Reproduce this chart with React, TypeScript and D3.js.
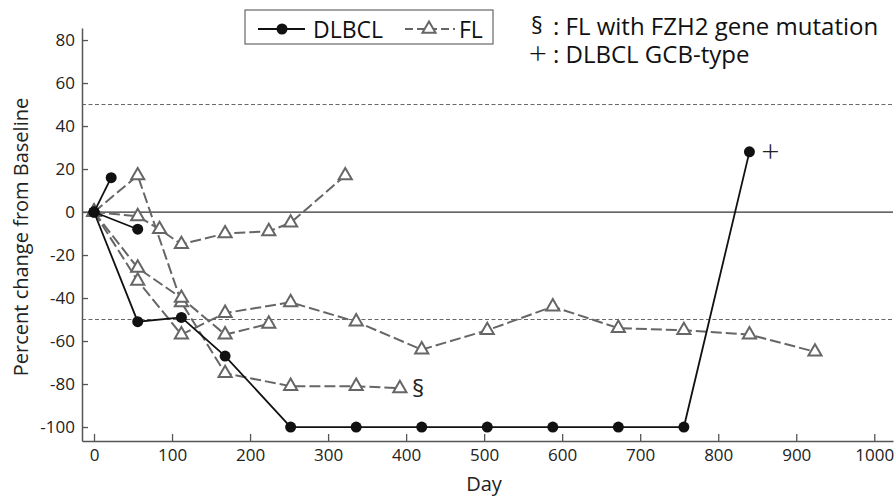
import React, { useEffect, useRef } from 'react';
import * as d3 from 'd3';

// DLBCL patients (day, % change)
const dlbcl1 = [[0, 0], [22, 16]];
const dlbcl2 = [[0, 0], [56, -8]];
const dlbcl3 = [[0, 0], [56, -51], [112, -49], [168, -67], [252, -100], [336, -100], [420, -100], [504, -100], [588, -100], [672, -100], [756, -100], [840, 28]];

// FL patients
const fl1 = [[0, 0], [56, -2], [84, -8], [112, -15], [168, -10], [224, -9], [252, -5], [322, 17]];
const fl2 = [[0, 0], [56, 17], [112, -42], [168, -75], [252, -81], [336, -81], [392, -82]];
const fl3 = [[0, 0], [56, -26], [112, -40], [168, -57], [224, -52]];
const fl4 = [[0, 0], [56, -32], [112, -57], [168, -47], [252, -42], [336, -51], [420, -64], [504, -55], [588, -44], [672, -54], [756, -55], [840, -57], [924, -65]];

const dlbclSeries = [dlbcl1, dlbcl2, dlbcl3];
const flSeries = [fl1, fl2, fl3, fl4];

const xTicks = [0, 100, 200, 300, 400, 500, 600, 700, 800, 900, 1000];
const yTicks = [-100, -80, -60, -40, -20, 0, 20, 40, 60, 80];
const refLines = [50, -50];

const W = 895;
const H = 498;
const FONT = "'Open Sans', sans-serif";

export default function App() {
  const ref = useRef<SVGSVGElement>(null);

  useEffect(() => {
    const svg = d3.select(ref.current);
    svg.selectAll('*').remove();

    const x = d3.scaleLinear().domain([-15.4, 1024]).range([82, 893]);
    const y = d3.scaleLinear().domain([-106.5, 85.6]).range([441, 28]);

    // reference lines (+/-50%)
    svg.append('g')
      .selectAll('line')
      .data(refLines)
      .enter()
      .append('line')
      .attr('x1', 82).attr('x2', 893)
      .attr('y1', d => y(d)).attr('y2', d => y(d))
      .attr('stroke', '#666').attr('stroke-width', 1)
      .attr('stroke-dasharray', '4,2.5');

    svg.append('line')
      .attr('x1', 82).attr('x2', 893)
      .attr('y1', y(0)).attr('y2', y(0))
      .attr('stroke', '#333').attr('stroke-width', 1.2);

    // axes
    const yAxis = d3.axisLeft(y).tickValues(yTicks).tickSizeInner(-6).tickSizeOuter(0).tickPadding(7).tickFormat(d => String(d));
    const gy = svg.append('g').attr('transform', 'translate(82,0)').call(yAxis);
    const xAxis = d3.axisBottom(x).tickValues(xTicks).tickSizeInner(-7).tickSizeOuter(0).tickPadding(8).tickFormat(d => String(d));
    const gx = svg.append('g').attr('transform', 'translate(0,441)').call(xAxis);
    [gx, gy].forEach(g => {
      g.select('.domain').attr('stroke', '#555').attr('stroke-width', 1.5);
      g.selectAll('.tick line').attr('stroke', '#555').attr('stroke-width', 1.3);
      g.selectAll('.tick text').attr('fill', '#222').attr('font-size', 17).attr('font-family', FONT);
    });

    svg.append('text')
      .attr('transform', 'translate(28,237) rotate(-90)')
      .attr('text-anchor', 'middle')
      .attr('font-size', 20).attr('font-family', FONT).attr('fill', '#222')
      .text('Percent change from Baseline');
    svg.append('text')
      .attr('x', 484).attr('y', 491)
      .attr('text-anchor', 'middle')
      .attr('font-size', 20).attr('font-family', FONT).attr('fill', '#222')
      .text('Day');

    const line = d3.line<number[]>().x(d => x(d[0])).y(d => y(d[1]));
    const tri = d3.symbol().type(d3.symbolTriangle).size(75);

    // FL
    const gfl = svg.append('g');
    gfl.selectAll('path.fl')
      .data(flSeries)
      .enter()
      .append('path')
      .attr('class', 'fl')
      .attr('d', d => line(d))
      .attr('fill', 'none').attr('stroke', '#666').attr('stroke-width', 2)
      .attr('stroke-dasharray', '11,4');

    // DLBCL
    const gd = svg.append('g');
    gd.selectAll('path')
      .data(dlbclSeries)
      .enter()
      .append('path')
      .attr('d', d => line(d))
      .attr('fill', 'none').attr('stroke', '#111').attr('stroke-width', 1.8);

    gfl.selectAll('path.tri')
      .data(flSeries.flat())
      .enter()
      .append('path')
      .attr('class', 'tri')
      .attr('d', tri)
      .attr('transform', d => 'translate(' + x(d[0]) + ',' + y(d[1]) + ')')
      .attr('fill', 'white').attr('stroke', '#666').attr('stroke-width', 2);

    gd.selectAll('circle')
      .data(dlbclSeries.flat())
      .enter()
      .append('circle')
      .attr('cx', d => x(d[0])).attr('cy', d => y(d[1]))
      .attr('r', 5.5).attr('fill', '#111');

    // annotations on the series
    const lastFl2 = fl2[fl2.length - 1];
    svg.append('text')
      .attr('x', x(lastFl2[0]) + 12).attr('y', y(lastFl2[1]) + 9)
      .attr('font-size', 24).attr('font-family', FONT).attr('fill', '#222')
      .text('§');
    const lastD = dlbcl3[dlbcl3.length - 1];
    svg.append('text')
      .attr('x', x(lastD[0]) + 21).attr('y', y(lastD[1]) + 11)
      .attr('text-anchor', 'middle')
      .attr('font-size', 32).attr('font-family', FONT).attr('font-weight', 300).attr('fill', '#222')
      .text('+');

    // legend
    const lg = svg.append('g');
    lg.append('rect')
      .attr('x', 245).attr('y', 10).attr('width', 248).attr('height', 34)
      .attr('fill', 'white').attr('stroke', '#666').attr('stroke-width', 1.2);
    lg.append('line').attr('x1', 258).attr('x2', 305).attr('y1', 29).attr('y2', 29)
      .attr('stroke', '#111').attr('stroke-width', 1.8);
    lg.append('circle').attr('cx', 282).attr('cy', 29).attr('r', 5.5).attr('fill', '#111');
    lg.append('text').attr('x', 313).attr('y', 38)
      .attr('font-size', 23).attr('font-family', FONT).attr('fill', '#111').text('DLBCL');
    lg.append('line').attr('x1', 405).attr('x2', 455).attr('y1', 29).attr('y2', 29)
      .attr('stroke', '#666').attr('stroke-width', 2).attr('stroke-dasharray', '8,4');
    lg.append('path').attr('d', tri).attr('transform', 'translate(429,29)')
      .attr('fill', 'white').attr('stroke', '#666').attr('stroke-width', 2);
    lg.append('text').attr('x', 459).attr('y', 38)
      .attr('font-size', 23).attr('font-family', FONT).attr('fill', '#111').text('FL');

    // notes
    svg.append('text').attr('x', 537).attr('y', 34).attr('text-anchor', 'middle')
      .attr('font-size', 23).attr('font-family', FONT).attr('fill', '#111').text('§');
    svg.append('text').attr('x', 553).attr('y', 35)
      .attr('font-size', 24).attr('font-family', FONT).attr('fill', '#111')
      .text(': FL with FZH2 gene mutation');
    svg.append('text').attr('x', 538).attr('y', 65).attr('text-anchor', 'middle')
      .attr('font-size', 32).attr('font-family', FONT).attr('font-weight', 300).attr('fill', '#111').text('+');
    svg.append('text').attr('x', 553).attr('y', 63)
      .attr('font-size', 24).attr('font-family', FONT).attr('fill', '#111')
      .text(': DLBCL GCB-type');
  }, []);

  return (
    <div style={{ position: 'absolute', left: 0, top: 0 }}>
      <svg ref={ref} width={W} height={H} style={{ display: 'block', background: 'white' }} />
    </div>
  );
}
